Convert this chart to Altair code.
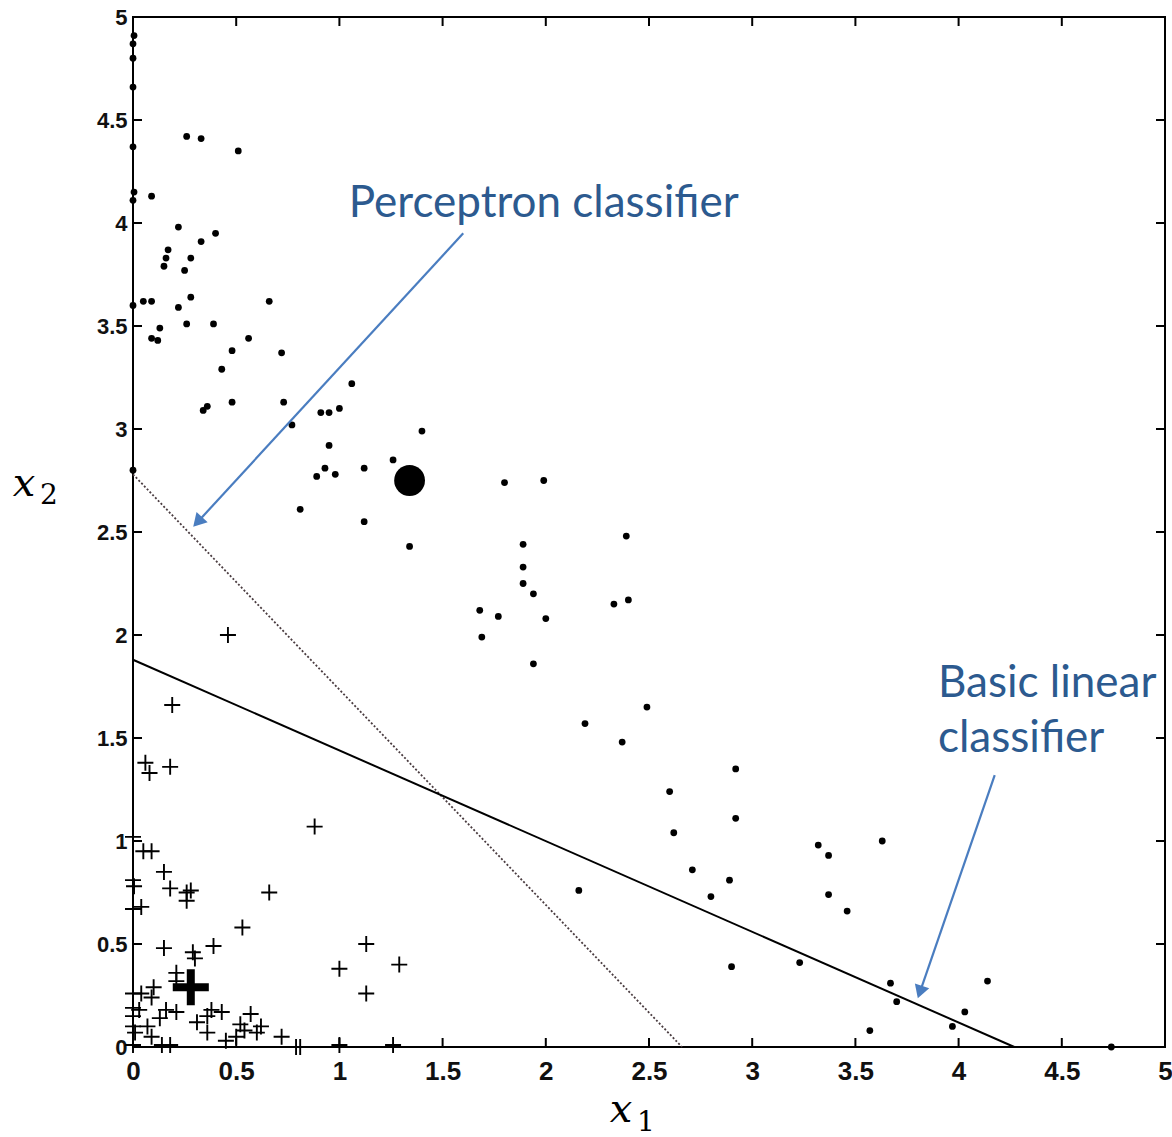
import math
import altair as alt
import pandas as pd

# ---------------- data ----------------
dot_x1 = [0.005, 0.0, 0.0, 0.0, 0.0, 0.005, 0.0, 0.09, 0.0, 0.0,
          0.26, 0.33, 0.51, 0.22, 0.40, 0.33, 0.17, 0.16, 0.28, 0.15, 0.25, 0.05, 0.09, 0.28, 0.22, 0.66,
          0.13, 0.26, 0.39, 0.09, 0.12, 0.56,
          0.48, 0.72, 0.43, 1.06, 0.34, 0.36, 0.48, 0.73, 0.77, 0.91, 0.95, 1.00, 1.40, 0.95, 1.26, 0.93,
          1.12, 0.89, 0.98, 0.81, 1.12, 1.34, 1.68, 1.77, 1.69,
          1.80, 1.99, 2.39, 1.89, 1.89, 1.89, 1.94, 2.33, 2.40, 2.00, 1.94, 2.49, 2.19, 2.37, 2.92,
          2.60, 2.92, 2.62, 3.63, 3.32, 3.37, 2.71, 2.89, 2.80, 3.37, 3.46, 2.90, 3.23, 3.67, 4.14, 3.70,
          4.03, 3.57, 3.97, 4.74, 2.16]
dot_x2 = [4.91, 4.87, 4.80, 4.66, 4.37, 4.15, 4.11, 4.13, 3.60, 2.80,
          4.42, 4.41, 4.35, 3.98, 3.95, 3.91, 3.87, 3.83, 3.83, 3.79, 3.77, 3.62, 3.62, 3.64, 3.59, 3.62,
          3.49, 3.51, 3.51, 3.44, 3.43, 3.44,
          3.38, 3.37, 3.29, 3.22, 3.09, 3.11, 3.13, 3.13, 3.02, 3.08, 3.08, 3.10, 2.99, 2.92, 2.85, 2.81,
          2.81, 2.77, 2.78, 2.61, 2.55, 2.43, 2.12, 2.09, 1.99,
          2.74, 2.75, 2.48, 2.44, 2.33, 2.25, 2.20, 2.15, 2.17, 2.08, 1.86, 1.65, 1.57, 1.48, 1.35,
          1.24, 1.11, 1.04, 1.00, 0.98, 0.93, 0.86, 0.81, 0.73, 0.74, 0.66, 0.39, 0.41, 0.31, 0.32, 0.22,
          0.17, 0.08, 0.10, 0.0, 0.76]

plus_x1 = [0.46, 0.19, 0.06, 0.08, 0.18, 0.88, 0.0, 0.05, 0.09, 0.15, 0.0, 0.005, 0.18, 0.26, 0.28,
           0.26, 0.66, 0.04, 0.0, 0.53, 0.15, 0.39, 0.29, 0.30, 1.13, 1.00, 1.29, 1.13, 0.21, 0.21,
           0.10, 0.04, 0.0, 0.09, 0.0, 0.03, 0.16, 0.21, 0.13, 0.38, 0.43, 0.36, 0.31, 0.36, 0.57,
           0.52, 0.54, 0.62, 0.60, 0.72, 0.45, 0.50, 0.79, 0.81, 1.00, 1.26, 0.0, 0.0, 0.01, 0.09,
           0.14, 0.18, 0.0, 0.07]
plus_x2 = [2.00, 1.66, 1.38, 1.33, 1.36, 1.07, 1.02, 0.95, 0.95, 0.85, 0.81, 0.78, 0.77, 0.75, 0.76,
           0.71, 0.75, 0.68, 0.67, 0.58, 0.48, 0.49, 0.46, 0.43, 0.50, 0.38, 0.40, 0.26, 0.36, 0.32,
           0.29, 0.26, 0.26, 0.24, 0.19, 0.18, 0.18, 0.17, 0.14, 0.18, 0.17, 0.15, 0.12, 0.07, 0.16,
           0.11, 0.08, 0.10, 0.07, 0.05, 0.03, 0.05, 0.0, 0.0, 0.01, 0.01, 0.15, 0.10, 0.07, 0.05,
           0.01, 0.01, 0.01, 0.10]

mean_dot_x1, mean_dot_x2 = [1.34], [2.75]
mean_plus_x1, mean_plus_x2 = [0.28], [0.29]

perc_x1, perc_x2 = [0.0, 2.66], [2.78, 0.0]
basic_x1, basic_x2 = [0.0, 4.27], [1.88, 0.0]

tick_values = [0, 0.5, 1, 1.5, 2, 2.5, 3, 3.5, 4, 4.5, 5]

# annotations
perc_label = ["Perceptron classifier"]
perc_label_pos = [1.99, 4.03]
perc_arrow = [1.60, 3.95, 0.287, 2.52]  # x_start, y_start, x_end, y_end
basic_label = ["Basic linear", "classifier"]
basic_label_x = [3.90, 3.90]
basic_label_y = [1.70, 1.43]
basic_arrow = [4.175, 1.32, 3.80, 0.23]

# ---------------- layout ----------------
W, H = 1032, 1030
PXX, PXY = W / 5.0, H / 5.0
TEXT_BLUE = "#2C5A8F"
ARROW_BLUE = "#4A7DC0"

xs = alt.Scale(domain=[0, 5], nice=False, zero=False)
ys = alt.Scale(domain=[0, 5], nice=False, zero=False)

label_font = "Liberation Sans"
xaxis = alt.Axis(values=tick_values, format="~g", title=None, grid=False, ticks=False,
                 domain=False, labelFont=label_font, labelFontSize=26, labelFontWeight="bold",
                 labelColor="#111111", labelPadding=11, labelFlush=False, labelOverlap=False)
yaxis = alt.Axis(values=tick_values, format="~g", title=None, grid=False, ticks=False,
                 domain=False, labelFont=label_font, labelFontSize=22, labelFontWeight="bold",
                 labelColor="#111111", labelPadding=6, labelFlush=False, labelOverlap=False)

def X(f="x"):
    return alt.X(f"{f}:Q", scale=xs, axis=xaxis)

def Y(f="y"):
    return alt.Y(f"{f}:Q", scale=ys, axis=yaxis)

dots = pd.DataFrame({"x": dot_x1, "y": dot_x2})
pluses = pd.DataFrame({"x": plus_x1, "y": plus_x2})

dot_layer = alt.Chart(dots).mark_circle(size=46, color="black", opacity=1).encode(x=X(), y=Y())

plus_path = "M-1,0H1M0,-1V1"
plus_layer = alt.Chart(pluses).mark_point(shape=plus_path, size=256, filled=False, color="black",
                                          strokeWidth=1.9, opacity=1).encode(x=X(), y=Y())

big_dot = alt.Chart(pd.DataFrame({"x": mean_dot_x1, "y": mean_dot_x2})).mark_circle(
    size=950, color="black", opacity=1).encode(x=X(), y=Y())
big_plus = alt.Chart(pd.DataFrame({"x": mean_plus_x1, "y": mean_plus_x2})).mark_point(
    shape=plus_path, size=1300, filled=False, color="black", strokeWidth=8, opacity=1).encode(x=X(), y=Y())

perc_line = alt.Chart(pd.DataFrame({"x": perc_x1, "y": perc_x2})).mark_line(
    color="#4a3c40", strokeWidth=1.8, strokeDash=[2, 2]).encode(x=X(), y=Y())
basic_line = alt.Chart(pd.DataFrame({"x": basic_x1, "y": basic_x2})).mark_line(
    color="black", strokeWidth=2).encode(x=X(), y=Y())

# inward ticks on all four sides
tdf = pd.DataFrame({"t": tick_values})
tl = 9
tick_bottom = alt.Chart(tdf).mark_rule(color="black", strokeWidth=2).encode(
    x=X("t"), y=alt.value(H), y2=alt.value(H - tl))
tick_top = alt.Chart(tdf).mark_rule(color="black", strokeWidth=2).encode(
    x=X("t"), y=alt.value(0), y2=alt.value(tl))
tick_left = alt.Chart(tdf).mark_rule(color="black", strokeWidth=2).encode(
    y=Y("t"), x=alt.value(0), x2=alt.value(tl))
tick_right = alt.Chart(tdf).mark_rule(color="black", strokeWidth=2).encode(
    y=Y("t"), x=alt.value(W), x2=alt.value(W - tl))

def arrow(spec):
    x0, y0, x1, y1 = spec
    dxp = (x1 - x0) * PXX
    dyp = -(y1 - y0) * PXY
    L = math.hypot(dxp, dyp)
    ux, uy = dxp / L, dyp / L
    back = 8.0
    hx = x1 - ux * back / PXX
    hy = y1 + uy * back / PXY
    ang = math.degrees(math.atan2(ux, -uy)) % 360
    shaft = alt.Chart(pd.DataFrame({"x": [x0], "y": [y0], "x2": [hx], "y2": [hy]})).mark_rule(
        color=ARROW_BLUE, strokeWidth=2.2).encode(x=X(), y=Y(), x2="x2:Q", y2="y2:Q")
    head = alt.Chart(pd.DataFrame({"x": [hx], "y": [hy]})).mark_point(
        shape="triangle-up", size=230, filled=True, color=ARROW_BLUE, opacity=1,
        angle=ang).encode(x=X(), y=Y())
    return shaft + head

perc_text = alt.Chart(pd.DataFrame({"x": [perc_label_pos[0]], "y": [perc_label_pos[1]],
                                    "t": perc_label})).mark_text(
    font="Lato", fontSize=44, color=TEXT_BLUE, align="center", baseline="alphabetic").encode(
    x=X(), y=Y(), text="t:N")
basic_text = alt.Chart(pd.DataFrame({"x": basic_label_x, "y": basic_label_y,
                                     "t": basic_label})).mark_text(
    font="Lato", fontSize=44, color=TEXT_BLUE, align="left", baseline="alphabetic").encode(
    x=X(), y=Y(), text="t:N")

# axis titles: italic x with subscript
def title_part(txt, px, py, size, italic, align):
    return alt.Chart(pd.DataFrame({"t": [txt]})).mark_text(
        font="DejaVu Serif", fontSize=size, fontStyle="italic" if italic else "normal",
        color="black", align=align, baseline="alphabetic").encode(
        text="t:N", x=alt.value(px), y=alt.value(py))

x1_title = title_part("x", 488, 1105, 40, True, "center") + title_part("1", 504, 1114, 28, False, "left")
x2_title = title_part("x", -109, 479, 40, True, "center") + title_part("2", -93, 487, 28, False, "left")

chart = alt.layer(
    perc_line, basic_line, dot_layer, plus_layer, big_dot, big_plus,
    tick_bottom, tick_top, tick_left, tick_right,
    arrow(perc_arrow), arrow(basic_arrow), perc_text, basic_text, x1_title, x2_title,
).properties(
    width=W, height=H,
    autosize=alt.AutoSizeParams(type="none"),
    padding={"left": 133, "top": 17, "right": 7, "bottom": 90},
    background="white",
).configure_view(stroke="black", strokeWidth=2)

chart.save("out.html", embed_options={"renderer": "svg", "actions": False})
